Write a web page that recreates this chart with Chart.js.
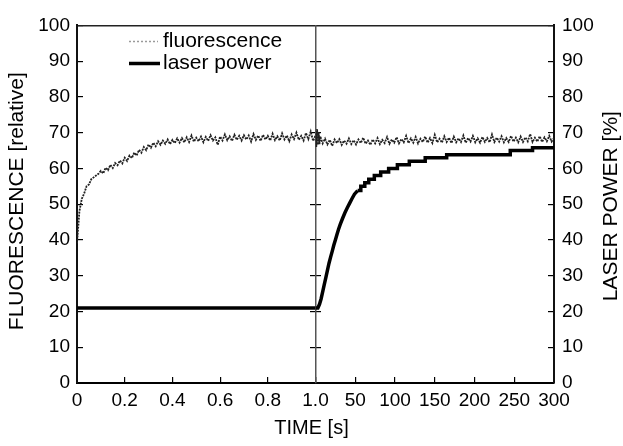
<!DOCTYPE html>
<html>
<head>
<meta charset="utf-8">
<script src="https://cdn.jsdelivr.net/npm/chart.js@4/dist/chart.umd.min.js"></script>
<style>
html,body{margin:0;padding:0;background:#fff;}
#wrap{width:623px;height:446px;position:relative;}
canvas{display:block;}
</style>
</head>
<body>
<div id="wrap"><canvas id="c" width="623" height="446"></canvas></div>
<script>
// ---- data ----
// left panel: time in seconds (0 .. 1.0 s)
const fluorLeftTime = [
  0.00,0.01,0.02,0.03,0.04,0.05,0.06,0.07,0.08,0.09,
  0.10,0.11,0.12,0.13,0.14,0.15,0.16,0.17,0.18,0.19,
  0.20,0.21,0.22,0.23,0.24,0.25,0.26,0.27,0.28,0.29,
  0.30,0.31,0.32,0.33,0.34,0.35,0.36,0.37,0.38,0.39,
  0.40,0.41,0.42,0.43,0.44,0.45,0.46,0.47,0.48,0.49,
  0.50,0.51,0.52,0.53,0.54,0.55,0.56,0.57,0.58,0.59,
  0.60,0.61,0.62,0.63,0.64,0.65,0.66,0.67,0.68,0.69,
  0.70,0.71,0.72,0.73,0.74,0.75,0.76,0.77,0.78,0.79,
  0.80,0.81,0.82,0.83,0.84,0.85,0.86,0.87,0.88,0.89,
  0.90,0.91,0.92,0.93,0.94,0.95,0.96,0.97,0.98,0.99,
  1.00
];
const fluorLeftValues = [
  39,48,51.5,53,55,55.5,57,57.5,58,58.5,
  59.3,58.6,60.2,59.5,61.0,60.1,61.5,60.9,62.2,61.4,
  63.0,62.1,63.6,62.9,64.4,63.6,65.2,64.4,66.0,65.1,
  66.7,65.8,67.2,66.2,67.6,66.6,67.8,66.9,68.1,66.8,
  68.0,67.1,68.4,67.2,68.5,67.3,68.7,67.4,69.2,67.5,
  68.6,67.6,68.9,67.3,68.8,67.7,69.3,67.8,68.7,66.6,
  68.9,67.8,69.5,67.9,69.0,67.7,69.4,68.0,69.1,67.8,
  69.3,68.1,69.2,67.5,69.6,68.0,69.2,67.7,69.4,68.1,
  69.1,67.8,69.7,67.9,69.0,67.8,69.8,68.1,69.2,67.6,
  69.5,68.2,70.0,68.0,69.1,67.8,69.9,68.2,70.3,67.7,
  69.2
];
// right panel: time in seconds (0 .. 300 s)
const fluorRightTime = [
  0,1,2,3,4,5,6,
  9,12,15,18,21,24,27,30,33,36,
  39,42,45,48,51,54,57,60,63,66,
  69,72,75,78,81,84,87,90,93,96,
  99,102,105,108,111,114,117,120,123,126,
  129,132,135,138,141,144,147,150,153,156,
  159,162,165,168,171,174,177,180,183,186,
  189,192,195,198,201,204,207,210,213,216,
  219,222,225,228,231,234,237,240,243,246,
  249,252,255,258,261,264,267,270,273,276,
  279,282,285,288,291,294,297,300
];
const fluorRightValues = [
  69.8,66.0,71.0,66.6,70.2,66.8,69.0,
  67.0,68.3,66.7,68.0,66.3,68.1,67.1,68.2,66.6,67.8,
  66.9,68.4,66.8,67.9,66.7,68.1,67.1,68.6,66.9,67.8,
  66.6,68.1,67.0,68.5,66.8,68.0,67.1,68.8,66.9,68.1,
  67.2,68.7,67.0,68.2,67.3,69.1,67.1,68.4,67.2,68.8,
  67.0,68.3,67.4,68.9,67.2,68.5,67.1,69.4,67.3,68.3,
  67.2,69.0,67.4,68.6,67.1,68.9,67.3,68.4,67.4,69.2,
  67.2,68.5,67.5,69.1,67.3,68.4,67.2,68.8,67.4,68.5,
  67.3,69.5,67.4,68.6,67.5,69.0,67.3,68.5,67.4,69.1,
  67.5,68.6,67.3,68.9,67.4,68.7,67.6,69.6,67.4,68.6,
  67.5,69.0,67.4,68.7,67.6,69.1,67.5,68.5
];
const laserLeftTime = [0, 1.0];
const laserLeftValues = [21, 21];
// smooth rise of the laser power after the switch (right panel)
const laserRiseTime = [0,3,5,7,9,11,13,15,17,19,21,23,25,27,29,31,34,37,40,43,46,49,53];
const laserRiseValues = [21,21,22,23.5,25.5,27.5,29.5,31.5,33.5,35.2,36.8,38.5,40,41.5,43,44.3,46,47.6,49,50.3,51.6,52.8,53.8];
// stepped part of the laser power (right panel)
const laserStepTime = [53,57,62,67,74,82,92,103,118,138,165,245,273,300];
const laserStepValues = [53.8,55,56,57,58,59,60,61,62,63,63.8,65,65.8,65.8];
const leftTimeTicks = [0, 0.2, 0.4, 0.6, 0.8, 1.0];
const rightTimeTicks = [0, 50, 100, 150, 200, 250, 300];
const yTicks = [0, 10, 20, 30, 40, 50, 60, 70, 80, 90, 100];
const seriesNames = ['fluorescence', 'laser power'];
const xTitle = 'TIME [s]';
const yLeftTitle = 'FLUORESCENCE [relative]';
const yRightTitle = 'LASER POWER [%]';

// ---- chart ----
const FONT = '"Liberation Sans", Arial, Helvetica, sans-serif';
Chart.defaults.font.family = FONT;
Chart.defaults.color = '#000';

const zip = (xs, ys) => xs.map((x, i) => ({x: x, y: ys[i]}));
const setTicks = arr => (scale) => { scale.ticks = arr.map(v => ({value: v})); };

const tickFont = {size: 19};

const yTitlesPlugin = {
  id: 'yTitles',
  afterDraw(chart) {
    const {ctx, chartArea} = chart;
    const cy = (chartArea.top + chartArea.bottom) / 2;
    [[yLeftTitle, 17, cy - 3], [yRightTitle, 611, cy + 2]].forEach(([t, x, y]) => {
      ctx.save();
      ctx.fillStyle = '#000';
      ctx.font = '21px ' + FONT;
      ctx.textAlign = 'center';
      ctx.textBaseline = 'middle';
      ctx.translate(x, y);
      ctx.rotate(-Math.PI / 2);
      ctx.fillText(t, 0, 0);
      ctx.restore();
    });
  }
};

const innerLegendPlugin = {
  id: 'innerLegend',
  afterDraw(chart) {
    const {ctx} = chart;
    const ds = chart.data.datasets;
    const items = [ds[0], ds[2]];
    const rows = [41.5, 63.5];
    ctx.save();
    items.forEach((d, i) => {
      const y = rows[i];
      ctx.beginPath();
      ctx.strokeStyle = i === 0 ? '#9a9a9a' : d.borderColor;
      ctx.lineWidth = i === 0 ? 1.5 : 3.5;
      ctx.setLineDash(i === 0 ? [2, 2] : []);
      ctx.moveTo(129, y);
      ctx.lineTo(i === 0 ? 158 : 160, y);
      ctx.stroke();
      ctx.setLineDash([]);
      ctx.fillStyle = '#000';
      ctx.font = '21px ' + FONT;
      ctx.textAlign = 'left';
      ctx.textBaseline = 'middle';
      ctx.fillText(d.label, 163, y);
    });
    ctx.restore();
  }
};

const fluorStyle = {borderColor: '#222', borderWidth: 1.8, borderDash: [2, 1], pointRadius: 0, tension: 0, yAxisID: 'y'};
const laserStyle = {borderColor: '#000', borderWidth: 3.5, pointRadius: 0, tension: 0, yAxisID: 'y'};

new Chart(document.getElementById('c'), {
  type: 'line',
  data: {
    datasets: [
      Object.assign({label: seriesNames[0], data: zip(fluorLeftTime, fluorLeftValues), xAxisID: 'x1'}, fluorStyle),
      Object.assign({label: seriesNames[0], data: zip(fluorRightTime, fluorRightValues), xAxisID: 'x2'}, fluorStyle),
      Object.assign({label: seriesNames[1], data: zip(laserLeftTime, laserLeftValues), xAxisID: 'x1'}, laserStyle),
      Object.assign({label: seriesNames[1], data: zip(laserRiseTime, laserRiseValues), xAxisID: 'x2'}, laserStyle),
      Object.assign({label: seriesNames[1], data: zip(laserStepTime, laserStepValues), xAxisID: 'x2', stepped: true}, laserStyle)
    ]
  },
  options: {
    responsive: false,
    animation: false,
    devicePixelRatio: 1,
    layout: {padding: {top: 18, left: 0, right: 0, bottom: 0}},
    plugins: {
      legend: {display: false},
      tooltip: {enabled: false},
      title: {display: true, position: 'bottom', text: xTitle, color: '#000',
              font: {size: 20, weight: 'normal'}, padding: {top: 2, bottom: 6}}
    },
    scales: {
      x1: {
        type: 'linear', position: 'bottom', stack: 'time', stackWeight: 1,
        min: 0, max: 1,
        afterBuildTicks: setTicks(leftTimeTicks),
        ticks: {autoSkip: false, maxRotation: 0, padding: 12, font: tickFont, color: '#000',
                callback: v => v === 0 ? '0' : Number(v).toFixed(1)},
        grid: {drawOnChartArea: false, tickLength: -6, color: '#000', lineWidth: 1.2},
        border: {color: '#000', width: 2},
        afterFit: s => { s.height = 31; }
      },
      x2: {
        type: 'linear', position: 'bottom', stack: 'time', stackWeight: 1,
        min: 0, max: 300,
        afterBuildTicks: setTicks(rightTimeTicks),
        ticks: {autoSkip: false, maxRotation: 0, padding: 12, font: tickFont, color: '#000',
                callback: v => v === 0 ? '' : String(v)},
        grid: {drawOnChartArea: false, tickLength: -6, color: '#000', lineWidth: 1.2},
        border: {color: '#000', width: 2},
        afterFit: s => { s.height = 31; }
      },
      xTop: {
        type: 'linear', position: 'top', min: 0, max: 1,
        ticks: {display: false}, grid: {display: false},
        border: {color: '#222', width: 1.5},
        afterFit: s => { s.height = 0; }
      },
      y: {
        type: 'linear', position: 'left', min: 0, max: 100,
        afterBuildTicks: setTicks(yTicks),
        ticks: {autoSkip: false, padding: 13, font: tickFont, color: '#000'},
        grid: {drawOnChartArea: false, tickLength: -6, color: '#000', lineWidth: 1.2},
        border: {color: '#111', width: 2},
        afterFit: s => { s.width = 77; }
      },
      yR: {
        type: 'linear', position: 'right', min: 0, max: 100,
        afterBuildTicks: setTicks(yTicks),
        ticks: {autoSkip: false, padding: 14, font: tickFont, color: '#000'},
        grid: {drawOnChartArea: false, tickLength: -6, color: '#000', lineWidth: 1.2},
        border: {color: '#111', width: 2},
        afterFit: s => { s.width = 69; }
      },
      yMidA: {
        type: 'linear', position: {x1: 1}, min: 0, max: 100,
        afterBuildTicks: setTicks(yTicks.slice(1, -1)),
        ticks: {display: false},
        grid: {drawOnChartArea: false, tickLength: 5, color: '#000', lineWidth: 1.2},
        border: {color: '#555', width: 1.5},
        afterFit: s => { s.width = 0; }
      },
      yMidB: {
        type: 'linear', position: {x1: 1}, min: 0, max: 100,
        afterBuildTicks: setTicks(yTicks.slice(1, -1)),
        ticks: {display: false},
        grid: {drawOnChartArea: false, tickLength: -5, color: '#000', lineWidth: 1.2},
        border: {display: false},
        afterFit: s => { s.width = 0; }
      }
    }
  },
  plugins: [yTitlesPlugin, innerLegendPlugin]
});
</script>
</body>
</html>
